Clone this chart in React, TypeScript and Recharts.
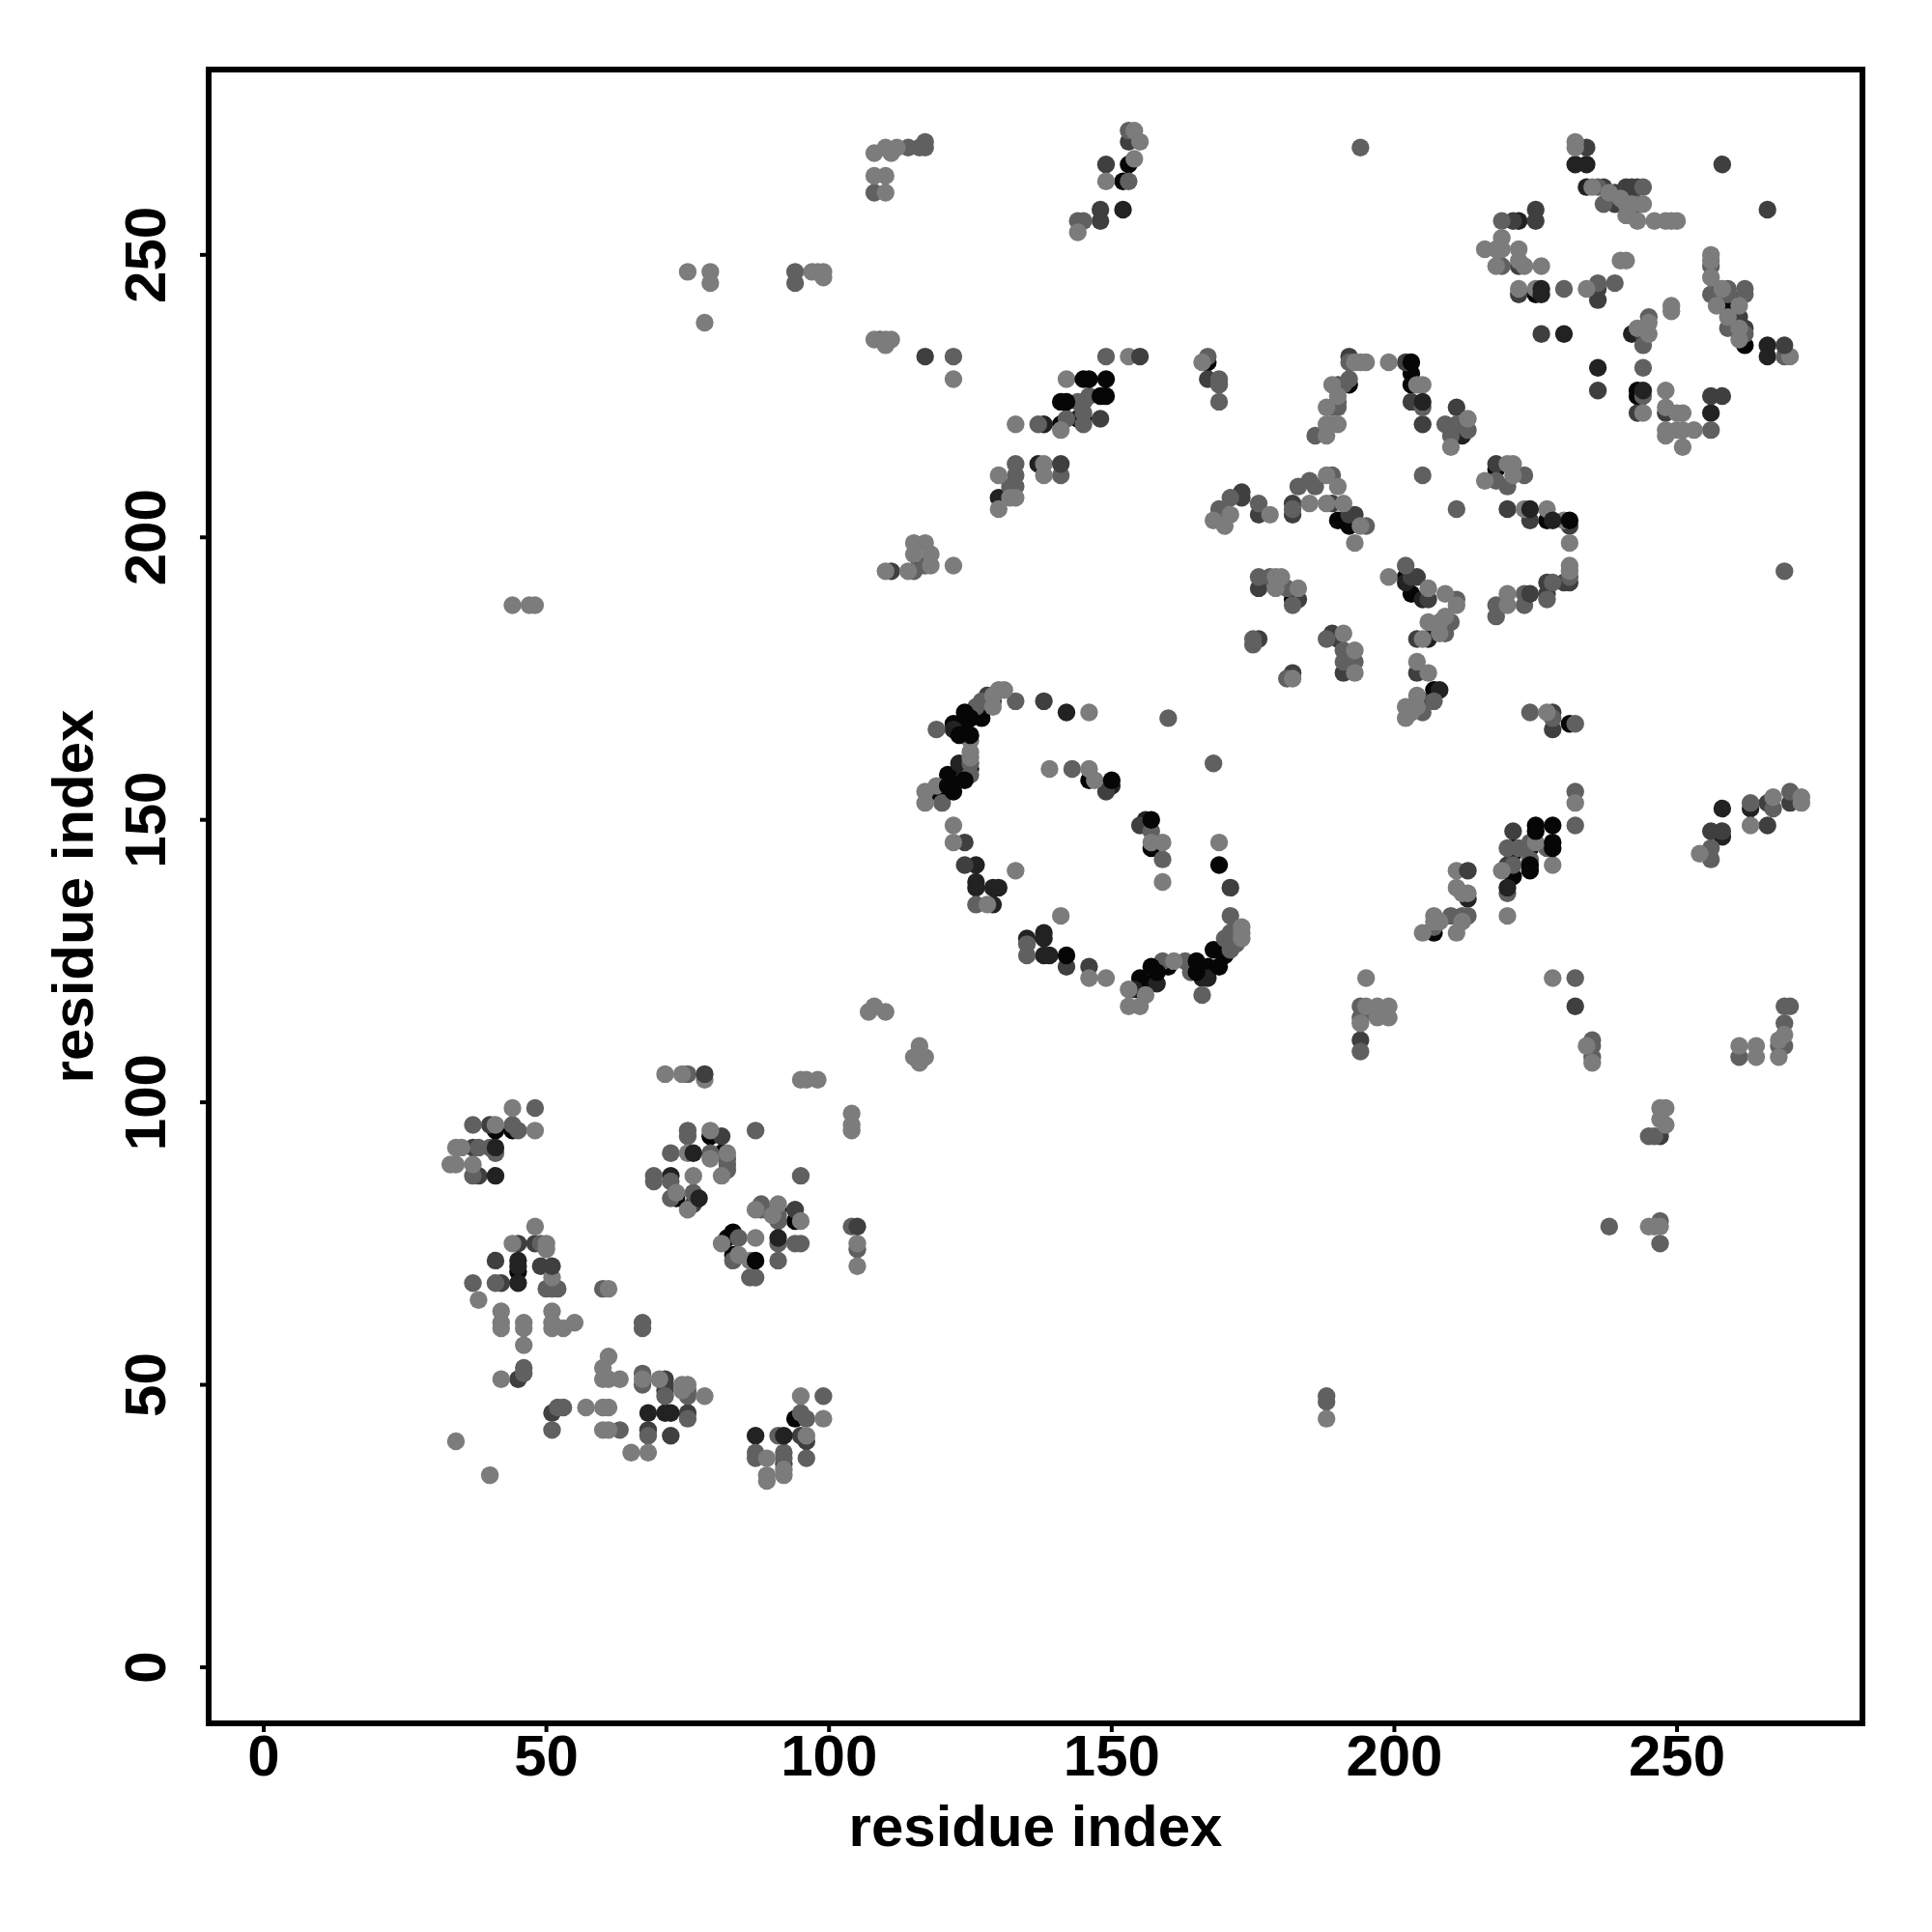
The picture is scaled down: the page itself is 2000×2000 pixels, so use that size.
import { ScatterChart, Scatter, XAxis, YAxis, ReferenceArea } from 'recharts';

const FONT = '"Liberation Sans", Arial, sans-serif';

const tickValues = [0, 50, 100, 150, 200, 250];
const axisTitle = 'residue index';
const xRange = [-9.74, 282.8];
const yRange = [-9.92, 282.8];

// contacts grouped by grey level, [residue, residue]
const blackDots = [
  [41, 95], [44, 95], [79, 94], [81, 91], [73, 83], [94, 44], [83, 77], [82, 76], [94, 79], [91, 81], [83, 73], [45, 70],
  [127, 169], [127, 168], [122, 167], [123, 167], [124, 166], [125, 159], [123, 159],
  [121, 158], [122, 157], [120, 155], [120, 154], [119, 155], [155, 122], [156, 121],
  [160, 124], [167, 124], [168, 127], [170, 126], [146, 157],
  [157, 145],
  [167, 231], [192, 227], [203, 229], [203, 227], [211, 219], [190, 203], [192, 202], [202, 193], [203, 190], [182, 189],
  [218, 212], [227, 203], [207, 173], [231, 167],
  [242, 260], [243, 226], [243, 225], [225, 243], [259, 241], [262, 234], [153, 266], [152, 263],
  [144, 221], [145, 221], [141, 220], [116, 195],
  [221, 145], [224, 145], [221, 144], [220, 141], [221, 140],
  [207, 130],
];
const inkDots = [
  [72, 87], [68, 45], [71, 45], [87, 41],
  [142, 169], [122, 166], [123, 160], [124, 158], [126, 142], [126, 139], [126, 138], [129, 138], [130, 138], [129, 135], [138, 130],
  [138, 129], [135, 129], [138, 126], [139, 126], [154, 120], [158, 121], [166, 122], [167, 122], [150, 156], [156, 150],
  [212, 218], [202, 192], [205, 189], [206, 182], [208, 173],
  [232, 266], [234, 266], [234, 262], [222, 256], [242, 236], [230, 236], [236, 230], [256, 222],
  [261, 242], [266, 234], [266, 232], [152, 258], [138, 220], [130, 207], [137, 213],
  [258, 147], [263, 152], [213, 136],
];
const darkDots = [
  [40, 96], [37, 92], [38, 87], [81, 94], [76, 82], [94, 81], [45, 75], [48, 75], [41, 72], [49, 71], [42, 68],
  [45, 51], [71, 51], [71, 50], [71, 49], [75, 45], [51, 45], [68, 42], [72, 41], [92, 36], [95, 41], [96, 40],
  [138, 171], [128, 172], [129, 171], [124, 146], [124, 142], [142, 124], [146, 124], [149, 155], [155, 149], [171, 138],
  [167, 228], [192, 232], [202, 231], [190, 227], [203, 224], [205, 220], [211, 223], [218, 213], [220, 205], [224, 203], [231, 202],
  [173, 208], [173, 207], [176, 204], [182, 206], [182, 204], [192, 204], [193, 204], [189, 206], [203, 193], [204, 193], [206, 189],
  [204, 182], [176, 191], [183, 189], [176, 182], [189, 183], [190, 182], [191, 176], [182, 176], [204, 176], [205, 171],
  [227, 192], [227, 190], [230, 192], [231, 192], [228, 166], [228, 169],
  [234, 269], [237, 262], [239, 261], [239, 259], [241, 262], [242, 262], [243, 262], [221, 256], [225, 258], [225, 256], [222, 248],
  [222, 243], [236, 244], [236, 242], [244, 236], [226, 236], [236, 226], [243, 222], [248, 222], [256, 225], [258, 225], [261, 239],
  [262, 237], [258, 266], [266, 258], [194, 111],
  [148, 258], [148, 256], [149, 266], [153, 270], [111, 194], [148, 221],
  [221, 148], [220, 142], [266, 149], [266, 153], [270, 153], [232, 117], [247, 94],
];
const slateDots = [
  [37, 96], [44, 96], [45, 95], [48, 99], [38, 92], [40, 92], [41, 91], [37, 87], [75, 95], [75, 94], [87, 95], [72, 91], [79, 91], [82, 90], [82, 88],
  [82, 89], [69, 87], [69, 86], [72, 86], [72, 83], [76, 84], [95, 87], [88, 82], [88, 81], [91, 79], [91, 80], [84, 76], [91, 75], [94, 75], [95, 75],
  [83, 72], [91, 72], [86, 69], [87, 69], [104, 78], [105, 74], [49, 75], [37, 68], [41, 68], [50, 67], [51, 67], [52, 67], [60, 67], [67, 61], [67, 60],
  [46, 53], [46, 52], [67, 52], [67, 50], [71, 48], [75, 49], [75, 48], [52, 46], [53, 46], [75, 44], [51, 42], [63, 42], [68, 41], [99, 48], [95, 45],
  [96, 44], [91, 41], [87, 38], [87, 37], [92, 38], [92, 37], [96, 37], [75, 105],
  [133, 171], [127, 171], [126, 170], [119, 166], [125, 160], [125, 158], [120, 153], [126, 135], [135, 128], [135, 126], [159, 125], [163, 125],
  [164, 123], [166, 119], [171, 127], [170, 129], [171, 130], [172, 128], [171, 133], [160, 168], [168, 160], [143, 159], [157, 148], [159, 143],
  [167, 232], [169, 228], [169, 227], [169, 224], [191, 227], [192, 228], [192, 231], [190, 223], [190, 224], [189, 223], [186, 218], [205, 223],
  [209, 220], [211, 220], [213, 219], [210, 218], [205, 211], [218, 210], [220, 209], [223, 211], [211, 205], [171, 207], [169, 205], [176, 206],
  [182, 205], [183, 209], [185, 210], [186, 209], [189, 211], [195, 202], [202, 195], [211, 189], [210, 185], [209, 183], [176, 193], [178, 193],
  [181, 191], [182, 188], [175, 182], [175, 181], [188, 182], [191, 180], [191, 178], [193, 178], [181, 175], [207, 171], [205, 169], [218, 188],
  [218, 186], [223, 190], [223, 188], [228, 192], [227, 189], [231, 193], [224, 169], [228, 168], [232, 167],
  [236, 262], [237, 259], [243, 259], [244, 262], [219, 256], [219, 248], [230, 244], [236, 245], [239, 245], [245, 239], [244, 234], [244, 230],
  [244, 225], [256, 219], [256, 243], [259, 244], [259, 243], [262, 244], [262, 243], [259, 237], [262, 236], [269, 232], [256, 248],
  [153, 272], [114, 269], [116, 269], [117, 270], [117, 269], [109, 235], [108, 261], [122, 232], [149, 232], [137, 220], [142, 221],
  [144, 224], [145, 224], [145, 222], [145, 220], [146, 225], [133, 213], [133, 211], [132, 209], [133, 209], [141, 211], [115, 194],
  [117, 195], [144, 256], [145, 256], [153, 263], [94, 247], [94, 245], [269, 194], [194, 269], [188, 48], [188, 47],
  [232, 155], [232, 149], [220, 145], [222, 145], [224, 146], [224, 143], [227, 145], [221, 142], [220, 137], [207, 131], [210, 133], [212, 133], [213, 133],
  [194, 117], [194, 115], [195, 116], [194, 109], [232, 122], [235, 111], [235, 110], [235, 108], [245, 94], [246, 94], [238, 78], [247, 79], [247, 75],
  [256, 145], [256, 143], [263, 153], [267, 152], [270, 155], [261, 108], [268, 110], [269, 117], [270, 117], [269, 114], [269, 110],
];
const lightDots = [
  [71, 105], [74, 105], [95, 104], [96, 104], [98, 104], [78, 104], [104, 98], [104, 96], [104, 95], [44, 99], [41, 96], [48, 95], [34, 92], [35, 92], [33, 89],
  [34, 89], [37, 89], [79, 95], [75, 91], [82, 91], [79, 90], [81, 87], [76, 87], [73, 84], [75, 81], [87, 81], [91, 82], [90, 80], [95, 79], [81, 75], [87, 76],
  [84, 73], [86, 72], [105, 75], [105, 71], [48, 78], [44, 75], [50, 75], [50, 74], [51, 69], [38, 65], [61, 67], [42, 63], [42, 61], [42, 60], [46, 61],
  [46, 60], [46, 57], [51, 63], [51, 61], [51, 60], [53, 60], [55, 61], [61, 55], [60, 53], [60, 51], [61, 51], [63, 51], [42, 51], [67, 51], [70, 51],
  [74, 50], [75, 50], [74, 49], [78, 48], [57, 46], [60, 46], [61, 46], [60, 42], [61, 42], [65, 38], [68, 38], [34, 40], [40, 34], [95, 48], [99, 44],
  [96, 41], [89, 37], [92, 35], [89, 34], [89, 33], [92, 34],
  [146, 169], [131, 173], [130, 173], [129, 172], [129, 170], [125, 164], [125, 162], [125, 161], [117, 155], [119, 156], [117, 153], [122, 149], [122, 146],
  [128, 135], [133, 141], [141, 133], [146, 122], [149, 122], [153, 120], [156, 119], [155, 117], [153, 117], [161, 125], [173, 131], [173, 130], [173, 129],
  [169, 146], [139, 159], [146, 159], [147, 157], [157, 146], [159, 146], [159, 139], [115, 108], [116, 108], [116, 107], [117, 108], [116, 110],
  [107, 116], [108, 117], [110, 116],
  [193, 231], [194, 231], [195, 231], [199, 231], [189, 227], [190, 225], [188, 223], [188, 220], [189, 220], [190, 220], [188, 218], [204, 227], [205, 227],
  [213, 221], [210, 216], [216, 210], [221, 213], [220, 213], [221, 211], [223, 205], [227, 205], [230, 203], [231, 199], [171, 204], [168, 203], [170, 202],
  [178, 204], [185, 206], [188, 206], [190, 209], [188, 211], [191, 206], [194, 202], [193, 199], [199, 193], [206, 191], [209, 190], [211, 188], [206, 185],
  [208, 185], [209, 186], [205, 182], [208, 183], [179, 193], [180, 193], [179, 191], [183, 191], [191, 183], [193, 180], [193, 176], [182, 175],
  [204, 178], [206, 176], [204, 172], [202, 170], [204, 170], [202, 168], [203, 169], [220, 190], [220, 188], [231, 195], [231, 194], [227, 169],
  [232, 270], [232, 269], [235, 262], [238, 261], [240, 260], [241, 259], [242, 259], [244, 259], [241, 257], [243, 256], [246, 256], [248, 256], [249, 256],
  [250, 256], [219, 253], [216, 251], [218, 251], [219, 251], [218, 248], [222, 251], [222, 249], [223, 248], [226, 248], [222, 244], [225, 244], [234, 244],
  [240, 249], [241, 249], [249, 241], [249, 240], [245, 238], [243, 237], [245, 236], [244, 222], [248, 226], [248, 223], [251, 222], [250, 222], [248, 219],
  [248, 218], [250, 219], [251, 219], [253, 219], [251, 216], [256, 250], [256, 249], [256, 246], [258, 244], [257, 241], [259, 239], [261, 241], [261, 237],
  [261, 235], [270, 232],
  [108, 268], [110, 269], [111, 268], [112, 269], [108, 264], [110, 264], [110, 261], [154, 272], [155, 270], [154, 267], [149, 263], [144, 254],
  [110, 235], [111, 235], [108, 235], [110, 234], [122, 228], [153, 232], [142, 228], [133, 220], [141, 219], [166, 231], [130, 211], [132, 207], [133, 207],
  [130, 205], [138, 213], [138, 211], [115, 199], [117, 199], [115, 197], [118, 197], [118, 195], [114, 194], [122, 195], [110, 194],
  [75, 247], [79, 247], [79, 245], [78, 238], [97, 247], [98, 247], [99, 247], [99, 246], [44, 188], [47, 188], [48, 188], [188, 44],
  [232, 153], [225, 146], [219, 141], [228, 142], [220, 133], [211, 141], [211, 138], [212, 137], [213, 137], [207, 133], [207, 132], [208, 132], [205, 130],
  [211, 130], [212, 132], [195, 122], [195, 117], [197, 117], [199, 117], [199, 115], [197, 115], [194, 114], [228, 122], [234, 110], [235, 107],
  [247, 99], [248, 99], [247, 97], [248, 96], [245, 78], [246, 78], [247, 78], [254, 144], [263, 149], [267, 154], [272, 154], [272, 153],
  [261, 110], [264, 110], [264, 108], [268, 108], [268, 111], [269, 112],
];

// contacts that sit over the lighter ones
const darkTop = [
  [78, 105], [51, 71], [105, 78], [269, 234], [256, 148], [258, 148], [213, 141], [224, 190], [155, 232], [141, 213], [117, 232],
];
const inkTop = [
  [41, 92], [41, 87], [76, 91], [77, 83], [91, 76], [45, 72], [45, 71], [45, 68], [72, 45], [92, 41],
  [205, 224], [224, 205], [228, 203], [226, 244], [226, 243], [244, 226], [220, 138], [258, 152],
];
const blackTop = [
  [87, 72], [150, 157], [157, 150], [169, 142], [142, 126], [203, 231], [231, 203], [225, 149], [228, 149], [225, 148], [228, 146], [228, 145],
  [224, 142], [224, 141], [145, 228], [146, 228], [149, 228], [148, 225], [149, 225], [141, 224], [142, 224],
  [157, 124], [158, 123], [165, 125], [165, 123], [169, 124], [124, 157], [122, 155], [121, 156], [125, 168], [124, 169], [123, 165], [125, 165],
];

const layers = [
  { name: 'black', points: blackDots, color: '#060606' },
  { name: 'ink', points: inkDots, color: '#222222' },
  { name: 'dark', points: darkDots, color: '#3f3f3f' },
  { name: 'slate', points: slateDots, color: '#606060' },
  { name: 'light', points: lightDots, color: '#7c7c7c' },
  { name: 'darkTop', points: darkTop, color: '#3f3f3f' },
  { name: 'inkTop', points: inkTop, color: '#222222' },
  { name: 'blackTop', points: blackTop, color: '#060606' },
];

const toRows = (points: number[][]) => points.map(([x, y]) => ({ x, y }));

function Dot({ cx, cy, fill }: any) {
  return <circle cx={cx} cy={cy} r={9.2} fill={fill} />;
}

function XTick({ x, y, payload }: any) {
  return (
    <text x={x} y={y + 43} textAnchor="middle" fontFamily={FONT} fontWeight="bold" fontSize={60} fill="#000">
      {payload.value}
    </text>
  );
}

function YTick({ x, y, payload }: any) {
  return (
    <text
      transform={`translate(${x - 34}, ${y}) rotate(-90)`}
      textAnchor="middle"
      fontFamily={FONT}
      fontWeight="bold"
      fontSize={60}
      fill="#000"
    >
      {payload.value}
    </text>
  );
}

export default function App() {
  return (
    <div style={{ position: 'absolute', left: 0, top: 0, width: 2000, height: 2000, background: '#fff' }}>
      <ScatterChart width={2000} height={2000} margin={{ top: 72, right: 72, bottom: 0, left: 0 }}>
        <XAxis
          type="number"
          dataKey="x"
          domain={xRange}
          ticks={tickValues}
          tick={<XTick />}
          height={216}
          axisLine={false}
          tickLine={{ stroke: '#000', strokeWidth: 4 }}
          tickSize={9}
          interval={0}
          allowDataOverflow
          label={{
            value: axisTitle,
            position: 'insideBottom',
            offset: 89,
            fontFamily: FONT,
            fontWeight: 'bold',
            fontSize: 60,
            fill: '#000',
          }}
        />
        <YAxis
          type="number"
          dataKey="y"
          domain={yRange}
          ticks={tickValues}
          tick={<YTick />}
          width={216}
          axisLine={false}
          tickLine={{ stroke: '#000', strokeWidth: 4 }}
          tickSize={9}
          interval={0}
          allowDataOverflow
          label={{
            value: axisTitle,
            angle: -90,
            position: 'insideLeft',
            offset: 75,
            style: { textAnchor: 'middle' },
            fontFamily: FONT,
            fontWeight: 'bold',
            fontSize: 60,
            fill: '#000',
          }}
        />
        {layers.map(l => (
          <Scatter
            key={l.name}
            name={l.name}
            data={toRows(l.points)}
            fill={l.color}
            shape={<Dot />}
            isAnimationActive={false}
          />
        ))}
        <ReferenceArea
          x1={xRange[0]}
          x2={xRange[1]}
          y1={yRange[0]}
          y2={yRange[1]}
          fill="none"
          stroke="#000"
          strokeWidth={6}
          ifOverflow="visible"
        />
      </ScatterChart>
    </div>
  );
}
